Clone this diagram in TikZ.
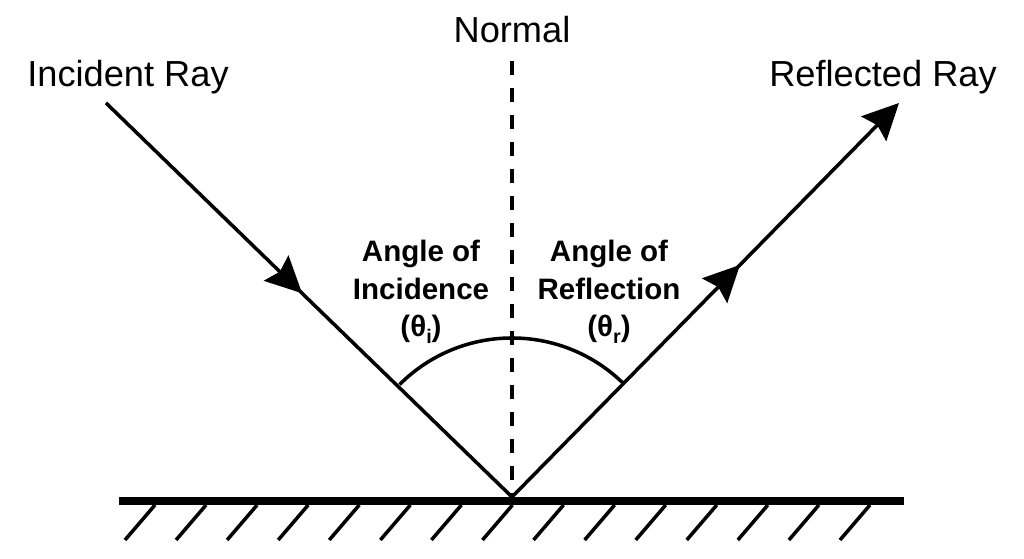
\documentclass[tikz,border=0pt]{standalone}
\usepackage{fontspec}
\setmainfont{Liberation Sans}
\usepackage{tikz}
\usetikzlibrary{arrows.meta,decorations.markings}

\newcommand{\lowsub}[1]{\raisebox{-0.45ex}{\fontsize{5.6}{6}\selectfont #1}}

\begin{document}
\begin{tikzpicture}[
			x = 0.01cm, y = 0.01cm,
			> = {Stealth[length=0.36cm,width=0.35cm,inset=0.05cm]},
			ray/.style = {line width=1pt},
			midarrow/.style = {postaction={decorate},decoration={markings,mark=at position #1 with {\arrow{>}}}},
			raylabel/.style = {font=\fontsize{10.3}{12}\selectfont, inner sep=0pt, anchor=base},
			anglelabel/.style = {font=\bfseries\fontsize{8.4}{10.7}\selectfont, align=center, inner sep=0pt}
			]

			\useasboundingbox (0,0) rectangle (1024,559);

			\coordinate (O) at (512,62);
			\coordinate (A) at (106,456);
			\coordinate (B) at (899,456);
			\coordinate (N) at (512,498);
			\coordinate (ML) at (119,58);
			\coordinate (MR) at (904,58);

			% mirror
			\draw[line width=2.3pt] (ML) -- (MR);
			\foreach \i in {0,...,14}
				\draw[line width=1pt] ({125+51.07*\i},19) -- ++(30,35);

			% normal and rays
			\draw[line width=1.1pt,dash pattern=on 0.14cm off 0.13cm] (N) -- (O);
			\draw[ray,midarrow=0.483] (A) -- (O);
			\draw[ray,midarrow=0.589,->] (O) -- (B);
			\draw[ray] (O) ++(45:159) arc[start angle=45, end angle=135, radius=159];

			\node[raylabel] (normal) at (512,516) {Normal};
			\node[raylabel] (incident) at (128,472) {Incident Ray};
			\node[raylabel] (reflected) at (883,472) {Reflected Ray};
			\node[anglelabel] (incidence) at (421,267) {Angle of\\Incidence\\(θ\lowsub{i})};
			\node[anglelabel] (reflection) at (609,267) {Angle of\\Reflection\\(θ\lowsub{r})};

		\end{tikzpicture}
\end{document}
